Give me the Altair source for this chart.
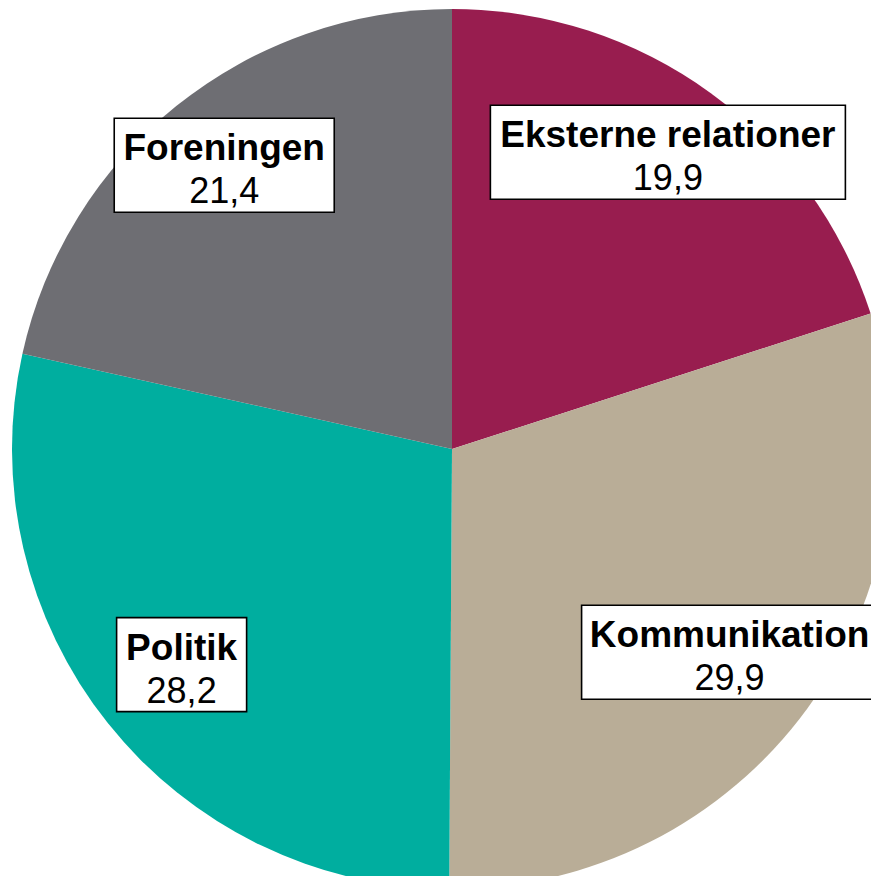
import math
import pandas as pd
import altair as alt

# ---- data ----
categories = ["Eksterne relationer", "Kommunikation", "Politik", "Foreningen"]
values = [19.9, 29.9, 28.2, 21.4]
value_labels = ["19,9", "29,9", "28,2", "21,4"]
colors = ["#981D4F", "#B9AD97", "#00AE9F", "#6E6E73"]

# ---- layout / style ----
W, H = 863, 868          # plot area (px)
CX, CY = 444, 441        # pie centre (px)
R = 440                  # pie radius (px)
label_radius = [0.834, 0.782, 0.786, 0.827]   # fraction of R for label box centre
box_width = [355, 296, 130, 220]              # px
box_height = 94                               # px
FONT = "Liberation Sans"

total = sum(values)
rows = []
cum = 0.0
for i, (c, v, vl) in enumerate(zip(categories, values, value_labels)):
    mid = (cum + v / 2) / total * 2 * math.pi
    cum += v
    ux = label_radius[i] * math.sin(mid)
    uy = label_radius[i] * math.cos(mid)
    hw = box_width[i] / 2 / R
    hh = box_height / 2 / R
    rows.append(dict(idx=i, category=c, value=v, vlabel=vl, ux=ux, uy=uy,
                     bx1=ux - hw, bx2=ux + hw, by1=uy - hh, by2=uy + hh))
df = pd.DataFrame(rows)

xs = alt.Scale(domain=[-CX / R, (W - CX) / R], range=[0, W], nice=False, zero=False)
ys = alt.Scale(domain=[-(H - CY) / R, CY / R], range=[H, 0], nice=False, zero=False)

arc = alt.Chart(df).mark_arc(radius=R).encode(
    theta=alt.Theta("value:Q", stack=True),
    order=alt.Order("idx:Q"),
    color=alt.Color("category:N", scale=alt.Scale(domain=categories, range=colors), legend=None),
    x=alt.value(CX),
    y=alt.value(CY),
)

boxes = alt.Chart(df).mark_rect(fill="white", stroke="black", strokeWidth=1.6).encode(
    x=alt.X("bx1:Q", scale=xs, axis=None),
    x2="bx2:Q",
    y=alt.Y("by1:Q", scale=ys, axis=None),
    y2="by2:Q",
)

names = alt.Chart(df).mark_text(
    font=FONT, fontSize=37, fontWeight="bold", color="black",
    baseline="alphabetic", align="center", dy=-5,
).encode(
    x=alt.X("ux:Q", scale=xs, axis=None),
    y=alt.Y("uy:Q", scale=ys, axis=None),
    text="category:N",
)

vals = alt.Chart(df).mark_text(
    font=FONT, fontSize=36, color="black",
    baseline="alphabetic", align="center", dy=38,
).encode(
    x=alt.X("ux:Q", scale=xs, axis=None),
    y=alt.Y("uy:Q", scale=ys, axis=None),
    text="vlabel:N",
)

chart = alt.layer(arc, boxes, names, vals).properties(
    width=W, height=H,
    autosize=alt.AutoSizeParams(type="none"),
    padding=0,
).configure_view(stroke=None)

chart.save("out.html", embed_options={"renderer": "svg", "actions": False})
